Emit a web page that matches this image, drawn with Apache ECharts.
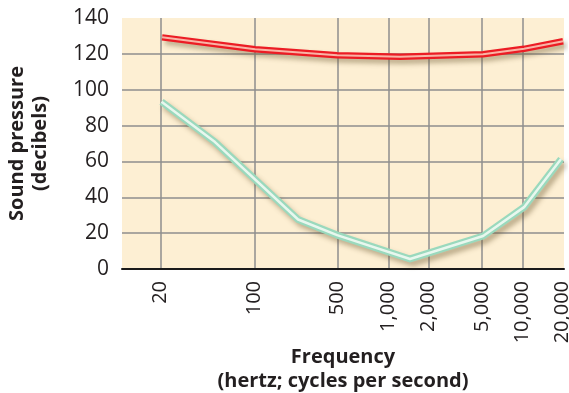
<!DOCTYPE html>
<html>
<head>
<meta charset="utf-8">
<script src="https://cdn.jsdelivr.net/npm/echarts@6/dist/echarts.min.js"></script>
<style>
  html, body {margin: 0; padding: 0; background: #fff;}
  #main {width: 569px; height: 393px;}
</style>
</head>
<body>
<div id="main"></div>
<script>
// x axis works in log10(frequency) units, positions as drawn in the picture
const tick_pos = [1.301, 2.0, 2.62, 3.0, 3.301, 3.699, 4.0, 4.301];
const tick_labels = ['20', '100', '500', '1,000', '2,000', '5,000', '10,000', '20,000'];
const grid_pos = tick_pos.slice(0, 7);

// upper curve (threshold of pain)
const pain_x = [1.311, 2.005, 2.617, 3.087, 3.706, 4.012, 4.303];
const pain_y = [129.2, 122.6, 119.2, 118.4, 119.8, 122.8, 127.0];

// lower curve (threshold of hearing)
const hear_x = [1.307, 1.706, 2.326, 2.617, 3.161, 3.706, 4.012, 4.288];
const hear_y = [93.3, 70.8, 27.6, 18.9, 5.6, 18.4, 34.5, 61.3];

const pair = (xs, ys) => xs.map((x, i) => [x, ys[i]]);

const shadow = {
    shadowColor: 'rgba(110, 90, 50, 0.45)', shadowBlur: 5,
    shadowOffsetX: 3, shadowOffsetY: 4
};

function line_series(data, color, width, extra) {
    return {
        type: 'line', data: data, symbol: 'none', silent: true, animation: false,
        lineStyle: Object.assign({color: color, width: width, join: 'round', cap: 'butt'}, extra || {}),
        z: extra ? 2 : 3
    };
}

const grey = '#8e8e8e';
const chart = echarts.init(document.getElementById('main'));
chart.setOption({
    animation: false,
    grid: {
        left: 122, right: 5, top: 18, bottom: 124,
        outerBoundsMode: 'none', containLabel: false,
        show: true, backgroundColor: '#fdefd3', borderWidth: 0
    },
    xAxis: {
        type: 'value', min: 1.012, max: 4.31,
        axisLine: {show: true, lineStyle: {color: '#1a1a1a', width: 2}},
        axisTick: {show: false, customValues: grid_pos},
        splitLine: {show: true, lineStyle: {color: grey, width: 1.5}},
        axisLabel: {
            customValues: tick_pos, rotate: 90, margin: 12,
            fontFamily: 'Open Sans', fontSize: 20, color: '#231f20',
            formatter: v => {
                let i = tick_pos.findIndex(t => Math.abs(t - v) < 1e-6);
                return i >= 0 ? tick_labels[i] : '';
            }
        },
        name: 'Frequency\n(hertz; cycles per second)',
        nameLocation: 'middle', nameGap: 76, nameMoveOverlap: false,
        nameTextStyle: {
            fontFamily: 'Open Sans', fontWeight: 'bold', fontSize: 20,
            color: '#231f20', lineHeight: 24
        }
    },
    yAxis: {
        type: 'value', min: 0, max: 140, interval: 20,
        axisLine: {show: false}, axisTick: {show: false},
        splitLine: {
            show: true,
            lineStyle: {
                color: ['rgba(0,0,0,0)', grey, grey, grey, grey, grey, grey, 'rgba(0,0,0,0)'],
                width: 1.5
            }
        },
        axisLabel: {
            margin: 13, fontFamily: 'Open Sans', fontSize: 21, color: '#231f20'
        },
        name: 'Sound pressure\n(decibels)',
        nameLocation: 'middle', nameGap: 70, nameRotate: 90, nameMoveOverlap: false,
        nameTextStyle: {
            fontFamily: 'Open Sans', fontWeight: 'bold', fontSize: 20,
            color: '#231f20', lineHeight: 23
        }
    },
    series: [
        line_series(pair(pain_x, pain_y), '#ec1c24', 6.5, shadow),
        line_series(pair(pain_x, pain_y), '#f9b4a6', 2),
        line_series(pair(hear_x, hear_y), '#9ad9bd', 7, shadow),
        line_series(pair(hear_x, hear_y), '#e8f7ee', 2.5)
    ]
});
</script>
</body>
</html>
